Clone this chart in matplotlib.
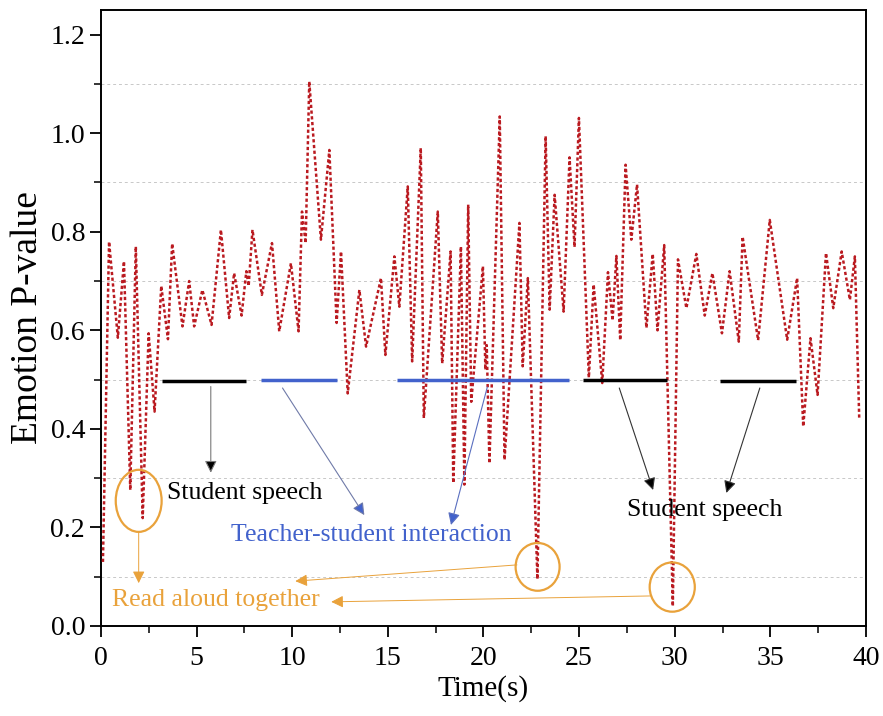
import matplotlib
matplotlib.use("Agg")
import matplotlib.pyplot as plt
from matplotlib.patches import Ellipse
from matplotlib.ticker import MultipleLocator, FormatStrFormatter

plt.rcParams['font.family'] = ['Liberation Serif', 'DejaVu Serif']

# ---- data ----
time_s = [0.10, 0.42, 0.88, 1.20, 1.53, 1.82, 2.18, 2.49, 2.80, 3.15, 3.50, 3.72,
          4.26, 4.61, 4.87, 5.30, 5.78, 6.27, 6.70, 6.96, 7.35, 7.60, 7.72, 7.92,
          8.41, 8.94, 9.32, 9.93, 10.33, 10.51, 10.70, 10.89, 11.50, 11.94, 12.32,
          12.55, 12.90, 13.51, 13.86, 14.64, 14.87, 15.34, 15.60, 16.04, 16.27,
          16.72, 16.88, 17.61, 17.84, 18.28, 18.42, 18.82, 19.00, 19.20, 19.36,
          19.97, 20.10, 20.17, 20.31, 20.85, 21.10, 21.88, 22.05, 22.32, 22.82,
          23.25, 23.46, 23.72, 24.19, 24.50, 24.76, 24.99, 25.51, 25.76, 26.21,
          26.51, 26.75, 26.95, 27.15, 27.43, 27.73, 28.03, 28.52, 28.85, 29.10,
          29.45, 29.90, 30.17, 30.61, 31.13, 31.57, 31.97, 32.47, 32.87, 33.35,
          33.55, 34.36, 34.97, 35.88, 36.40, 36.72, 37.10, 37.47, 37.91, 38.29,
          38.73, 39.16, 39.42, 39.65]
p_value = [0.13, 0.78, 0.585, 0.74, 0.276, 0.77, 0.219, 0.594, 0.435, 0.69, 0.582, 0.776,
           0.608, 0.70, 0.608, 0.682, 0.611, 0.804, 0.625, 0.716, 0.630, 0.72, 0.69, 0.804,
           0.672, 0.777, 0.598, 0.736, 0.598, 0.841, 0.777, 1.105, 0.784, 0.966, 0.615,
           0.76, 0.472, 0.682, 0.567, 0.706, 0.55, 0.75, 0.648, 0.892, 0.537,
           0.97, 0.422, 0.841, 0.533, 0.76, 0.29, 0.77, 0.287, 0.855, 0.455,
           0.73, 0.52, 0.57, 0.33, 1.034, 0.337, 0.818, 0.527, 0.706, 0.095,
           0.994, 0.642, 0.875, 0.638, 0.951, 0.769, 1.031, 0.504, 0.693, 0.493,
           0.718, 0.62, 0.751, 0.58, 0.936, 0.784, 0.896, 0.605, 0.755, 0.60,
           0.773, 0.04, 0.744, 0.645, 0.755, 0.63, 0.716, 0.594, 0.72, 0.577,
           0.79, 0.58, 0.824, 0.581, 0.706, 0.405, 0.584, 0.469, 0.757, 0.645,
           0.76, 0.662, 0.75, 0.418]

# activity segments
seg_start = [3.19, 8.38, 15.5, 25.2, 32.35]
seg_end = [7.59, 12.36, 24.45, 29.6, 36.35]
seg_level = [0.497, 0.50, 0.50, 0.50, 0.497]
seg_kind = ['student', 'teacher', 'teacher', 'student', 'student']

RED = '#BA1A20'
BLUE = '#4262CC'
ORANGE = '#E9A23B'
kind_color = {'student': 'black', 'teacher': BLUE}

fig = plt.figure(figsize=(8.83, 7.16), dpi=100)
ax = fig.add_axes([0.1144, 0.1257, 0.8663, 0.8603])

ax.plot(time_s, p_value, color=RED, lw=1.8, linestyle=(0, (1.3, 1.0)), zorder=3)

for s, e, lv, k in zip(seg_start, seg_end, seg_level, seg_kind):
    ax.plot([s, e], [lv, lv], color=kind_color[k], lw=2.5, solid_capstyle='butt',
            linestyle='-', zorder=4)

ax.set_xlim(0, 40)
ax.set_ylim(0, 1.25)
ax.xaxis.set_major_locator(MultipleLocator(5))
ax.xaxis.set_minor_locator(MultipleLocator(2.5))
ax.yaxis.set_major_locator(MultipleLocator(0.2))
ax.yaxis.set_minor_locator(MultipleLocator(0.1))
ax.yaxis.set_major_formatter(FormatStrFormatter('%.1f'))

for yv in [0.1, 0.3, 0.5, 0.7, 0.9, 1.1]:
    ax.axhline(yv, color='#c8c8c8', lw=0.7, linestyle=(0, (3, 3)), zorder=1)

ax.tick_params(which='major', direction='out', length=8, width=1.3, labelsize=20,
               top=False, right=False)
ax.tick_params(axis='x', which='major', pad=6.5)
ax.tick_params(which='minor', direction='out', length=5, width=1.1,
               top=False, right=False)
for sp in ax.spines.values():
    sp.set_linewidth(1.4)

ax.set_xlabel('Time(s)', fontsize=21, labelpad=3)
ax.set_ylabel('Emotion P-value', fontsize=27, labelpad=4)

# annotation arrows
def arrow(x0, y0, x1, y1, lc, hc, lw=0.8):
    ax.annotate('', xy=(x1, y1), xytext=(x0, y0),
                arrowprops=dict(arrowstyle='-|>', color=lc, fc=hc, ec=lc, lw=lw,
                                mutation_scale=18, shrinkA=0, shrinkB=0), zorder=5)

arrow(5.74, 0.486, 5.74, 0.311, '#7a7a7a', 'black')
arrow(9.49, 0.483, 13.77, 0.225, '#6f7aa8', BLUE)
arrow(20.2, 0.485, 18.3, 0.205, '#5a6fc0', BLUE)
arrow(27.1, 0.483, 28.87, 0.276, '#333333', 'black')
arrow(34.45, 0.483, 32.70, 0.270, '#333333', 'black')

# read aloud arrows
arrow(1.97, 0.19, 1.97, 0.087, ORANGE, ORANGE, lw=0.7)
arrow(21.75, 0.124, 10.16, 0.091, ORANGE, ORANGE, lw=0.7)
arrow(28.75, 0.061, 12.04, 0.049, ORANGE, ORANGE, lw=0.7)

# ellipses
for cx, cy, w, h in [(1.97, 0.254, 2.4, 0.126), (22.83, 0.12, 2.3, 0.097),
                     (29.87, 0.079, 2.36, 0.10)]:
    ax.add_patch(Ellipse((cx, cy), w, h, fill=False, ec=ORANGE, lw=1.6, zorder=6))

ax.text(3.45, 0.27, 'Student speech', fontsize=18.5, color='black', va='center', ha='left')
ax.text(27.49, 0.236, 'Student speech', fontsize=18.5, color='black', va='center', ha='left')
ax.text(6.8, 0.185, 'Teacher-student interaction', fontsize=18.5, color=BLUE,
        va='center', ha='left')
ax.text(0.58, 0.053, 'Read aloud together', fontsize=18.5, color=ORANGE,
        va='center', ha='left')

fig.savefig('out.png', dpi=100)
